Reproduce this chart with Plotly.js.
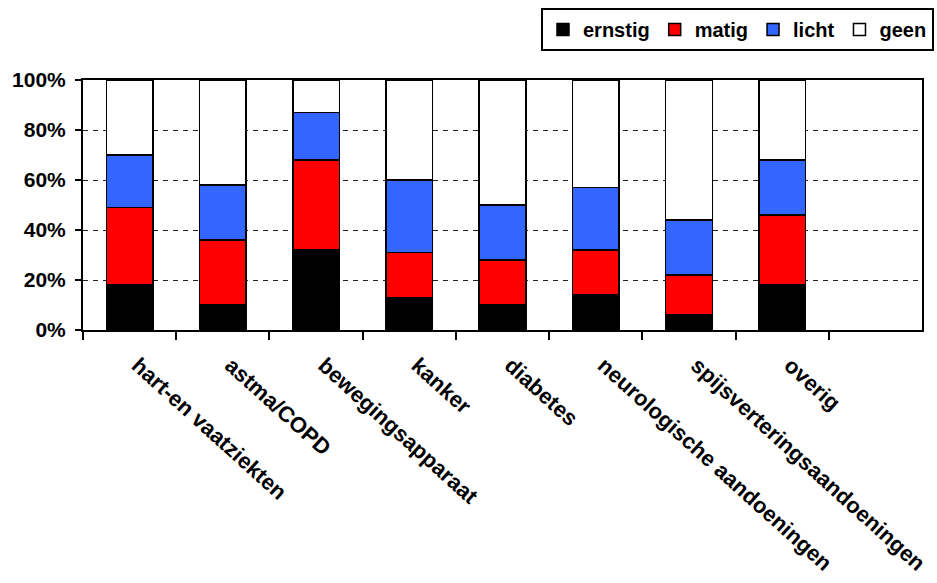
<!DOCTYPE html>
<html>
<head>
<meta charset="utf-8">
<script src="https://cdn.plot.ly/plotly-3.0.1.min.js"></script>
<style>html,body{margin:0;padding:0;background:#fff;}#chart{width:937px;height:583px;}</style>
</head>
<body>
<div id="chart"></div>
<script>
const categories = ['hart-en vaatziekten','astma/COPD','bewegingsapparaat','kanker','diabetes','neurologische aandoeningen','spijsverteringsaandoeningen','overig'];
const ernstig = [18, 10, 32, 13, 10, 14, 6, 18];
const matig   = [31, 26, 36, 18, 18, 18, 16, 28];
const licht   = [21, 22, 19, 29, 22, 25, 22, 22];
const geen    = [30, 42, 13, 40, 50, 43, 56, 32];
const seriesNames = ['ernstig','matig','licht','geen'];
const seriesColors = ['#000000','#FF0000','#3366FF','#FFFFFF'];
const yTickVals = [0,20,40,60,80,100];
const yTickText = ['0%','20%','40%','60%','80%','100%'];

const FONT = 'Arial, "Liberation Sans", sans-serif';
const allSeries = [ernstig, matig, licht, geen];
const traces = allSeries.map((vals, i) => ({
  type: 'bar',
  name: seriesNames[i],
  x: categories,
  y: vals,
  marker: {color: seriesColors[i], line: {color: '#000', width: 1.5}},
  hoverinfo: 'skip'
}));

const layout = {
  width: 937, height: 583,
  margin: {l: 83, r: 15, t: 80, b: 253, autoexpand: false},
  paper_bgcolor: '#fff', plot_bgcolor: '#fff',
  barmode: 'stack',
  bargap: 0.5,
  font: {family: FONT, size: 22, color: '#000', weight: 'bold'},
  showlegend: true,
  legend: {
    orientation: 'h', traceorder: 'normal',
    x: 1.0143, xanchor: 'right', y: 1.288, yanchor: 'top',
    bgcolor: '#fff', bordercolor: '#000', borderwidth: 2,
    font: {family: FONT, size: 20, color: '#000', weight: 'bold'}
  },
  xaxis: {
    type: 'category',
    range: [-0.5, 8.5],
    tickson: 'boundaries',
    ticks: 'outside', ticklen: 8, tickwidth: 2, tickcolor: '#000',
    tickangle: 42,
    ticklabelstandoff: 12,
    ticklabelshift: 8,
    showline: true, linecolor: '#000', linewidth: 2, mirror: true,
    showgrid: false, zeroline: false, automargin: false,
    tickfont: {family: FONT, size: 22, color: '#000', weight: 'bold'}
  },
  yaxis: {
    range: [0, 100],
    tickmode: 'array',
    tickvals: yTickVals,
    ticktext: yTickText,
    ticks: 'outside', ticklen: 6, tickwidth: 2, tickcolor: '#000',
    ticklabelstandoff: 5,
    showline: true, linecolor: '#000', linewidth: 2, mirror: true,
    showgrid: true, gridcolor: '#222', gridwidth: 1, griddash: '5px,5px',
    zeroline: false, automargin: false,
    tickfont: {family: FONT, size: 21, color: '#000', weight: 'bold'}
  }
};

Plotly.newPlot('chart', traces, layout, {displayModeBar: false, staticPlot: true});
</script>
</body>
</html>
